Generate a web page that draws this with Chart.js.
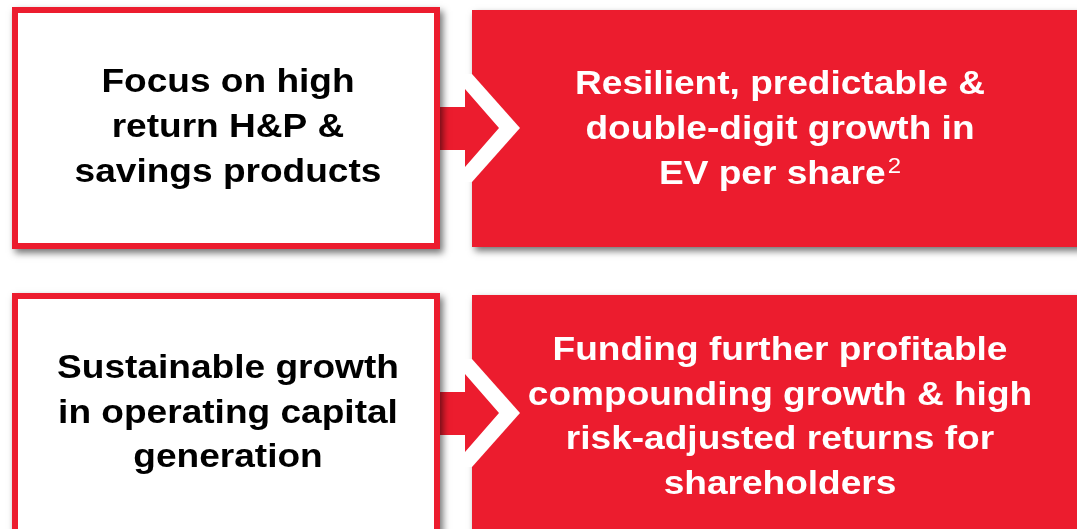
<!DOCTYPE html>
<html>
<head>
<meta charset="utf-8">
<script src="https://cdn.jsdelivr.net/npm/chart.js@4.4.0/dist/chart.umd.min.js"></script>
<style>
  html, body { margin: 0; padding: 0; background: #fff; }
  #chart { display: block; }
</style>
</head>
<body>
<canvas id="chart" width="1077" height="529"></canvas>
<script>
// texts of the two rows (left = driver, right = outcome)
const leftText = [
  ["Focus on high", "return H&P &", "savings products"],
  ["Sustainable growth", "in operating capital", "generation"]
];
const rightText = [
  ["Resilient, predictable &", "double-digit growth in", "EV per share"],
  ["Funding further profitable", "compounding growth & high", "risk-adjusted returns for", "shareholders"]
];
const rightNote = ["2", ""];

// layout in scale units (x 0..1077, y 0..529 top-down)
const layout = {
  leftBox: { x0: 12, x1: 440, top: [7, 293], bottom: [249, 545] },
  redBox: { x0: 472, x1: 1090, top: [10, 295], bottom: [247, 545] },
  arrowY: [128, 413],
  leftX: 228,
  rightX: 780,
  leftBase: [92, 378],
  rightBase: [94, 360],
  lineStep: [45, 44.5]
};

const RED = "#ec1c2e";
const FONT = '"Liberation Sans", Arial, sans-serif';

function drawLines(ctx, lines, cx, y0, step, color, note) {
  ctx.fillStyle = color;
  ctx.textBaseline = "alphabetic";
  ctx.textAlign = "left";
  lines.forEach((line, i) => {
    const y = y0 + i * step;
    const sx = 1.09;
    ctx.font = "bold 34px " + FONT;
    const w = ctx.measureText(line).width;
    let ws = 0;
    const last = note && i === lines.length - 1;
    if (last) {
      ctx.font = "22px " + FONT;
      ws = ctx.measureText(note).width + 2;
    }
    ctx.save();
    ctx.translate(cx, y);
    ctx.scale(sx, 1);
    const start = -(w + ws) / 2;
    ctx.font = "bold 34px " + FONT;
    ctx.fillText(line, start, 0);
    if (last) {
      ctx.font = "22px " + FONT;
      ctx.fillText(note, start + w + 2, -11);
    }
    ctx.restore();
  });
}

const flowPlugin = {
  id: "flow",
  afterDraw(chart) {
    const ctx = chart.ctx;
    const xs = chart.scales.x;
    const ys = chart.scales.y;
    const px = v => xs.getPixelForValue(v);
    const py = v => ys.getPixelForValue(v);

    for (let r = 0; r < 2; r++) {
      // red outcome box with drop shadow
      ctx.save();
      ctx.shadowColor = "rgba(0,0,0,0.55)";
      ctx.shadowBlur = 7;
      ctx.shadowOffsetX = 3;
      ctx.shadowOffsetY = 4;
      ctx.fillStyle = RED;
      const rb = layout.redBox;
      ctx.fillRect(px(rb.x0), py(rb.top[r]), px(rb.x1) - px(rb.x0), py(rb.bottom[r]) - py(rb.top[r]));
      ctx.restore();

      // arrow: white chevron cut into the red box, then red arrow
      const cy = layout.arrowY[r];
      ctx.fillStyle = "#fff";
      ctx.beginPath();
      ctx.moveTo(px(462), py(cy - 54));
      ctx.lineTo(px(472), py(cy - 54));
      ctx.lineTo(px(520), py(cy));
      ctx.lineTo(px(472), py(cy + 54));
      ctx.lineTo(px(462), py(cy + 54));
      ctx.closePath();
      ctx.fill();

      ctx.fillStyle = RED;
      ctx.beginPath();
      ctx.moveTo(px(436), py(cy - 21));
      ctx.lineTo(px(465), py(cy - 21));
      ctx.lineTo(px(465), py(cy - 39));
      ctx.lineTo(px(499), py(cy));
      ctx.lineTo(px(465), py(cy + 39));
      ctx.lineTo(px(465), py(cy + 22));
      ctx.lineTo(px(436), py(cy + 22));
      ctx.closePath();
      ctx.fill();

      // left white box with red frame and shadow
      const lb = layout.leftBox;
      const x0 = px(lb.x0), y0 = py(lb.top[r]);
      const w = px(lb.x1) - x0, h = py(lb.bottom[r]) - y0;
      ctx.save();
      ctx.shadowColor = "rgba(0,0,0,0.55)";
      ctx.shadowBlur = 7;
      ctx.shadowOffsetX = 3;
      ctx.shadowOffsetY = 4;
      ctx.fillStyle = RED;
      ctx.fillRect(x0, y0, w, h);
      ctx.restore();
      ctx.fillStyle = "#fff";
      ctx.fillRect(x0 + 6, y0 + 6, w - 12, h - 12);

      drawLines(ctx, leftText[r], px(layout.leftX), py(layout.leftBase[r]), layout.lineStep[r], "#000", "");
      drawLines(ctx, rightText[r], px(layout.rightX), py(layout.rightBase[r]), layout.lineStep[r], "#fff", rightNote[r]);
    }
  }
};

const ctx = document.getElementById("chart").getContext("2d");
new Chart(ctx, {
  type: "scatter",
  data: { datasets: [] },
  options: {
    responsive: false,
    animation: false,
    events: [],
    layout: { padding: 0 },
    plugins: { legend: { display: false }, tooltip: { enabled: false } },
    scales: {
      x: { type: "linear", min: 0, max: 1077, display: false },
      y: { type: "linear", min: 0, max: 529, reverse: true, display: false }
    }
  },
  plugins: [flowPlugin]
});
</script>
</body>
</html>
